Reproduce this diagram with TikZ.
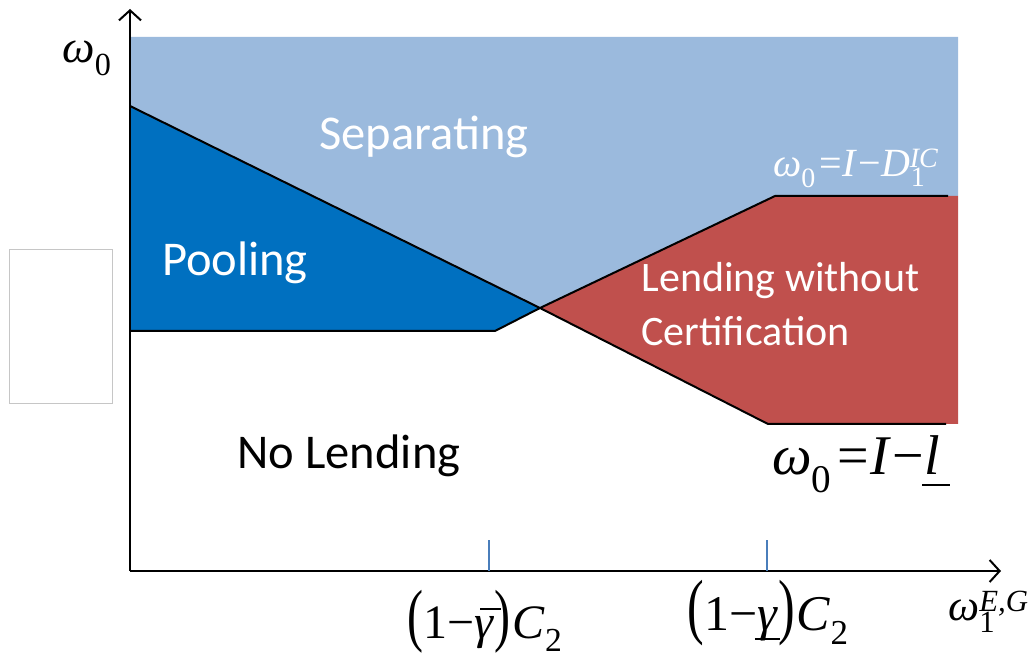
\documentclass[tikz,border=0pt]{standalone}
\usepackage{fontspec}
\setmainfont{Liberation Serif}
\newfontfamily\calib{Carlito}
\usepackage{graphicx}
\usetikzlibrary{arrows.meta}
\definecolor{lblue}{HTML}{9BBADD}
\definecolor{dblue}{HTML}{0070C0}
\definecolor{lred}{HTML}{C0504D}
\definecolor{tickc}{HTML}{4A7EBB}
\newcommand\omg{\textit{ω}}
\newcommand\bigp[1]{\scalebox{1}[1.45]{#1}}
\newcommand\obar[1]{\leavevmode\rlap{\kern0.12em\raisebox{0.58em}{\rule{0.42em}{2.2pt}}}#1}
\newcommand\ubar[1]{\leavevmode\rlap{\kern-0.05em\raisebox{-0.2em}{\rule{0.5em}{2.2pt}}}#1}
\tikzset{
  region/.style={text=white,font=\calib\fontsize{48.5}{54}\selectfont},
  smallregion/.style={text=white,font=\calib\fontsize{42}{50}\selectfont},
  boundary/.style={black,line width=2pt},
  axis/.style={black,line width=2.2pt,-{Straight Barb[length=10pt,width=22pt,line width=2pt]}},
  tickm/.style={tickc,line width=2pt},
  mathlbl/.style={inner sep=0pt},
}
\begin{document}
\begin{tikzpicture}[x=1pt,y=-1pt]
\useasboundingbox (0,0) rectangle (1029,660);
% regions
\fill[lblue] (130,37) -- (958,37) -- (958,196) -- (775,196) -- (540,308) -- (130,106) -- cycle;
\fill[dblue] (130,106) -- (540,308) -- (495,331) -- (130,331) -- cycle;
\fill[lred] (540,308) -- (775,196) -- (958,196) -- (958,424) -- (768,424) -- cycle;
% boundaries
\coordinate (p1) at (130,106);
\coordinate (x0) at (540,308);
\coordinate (p2) at (768,424);
\coordinate (p3) at (946,424);
\coordinate (q0) at (130,331);
\coordinate (q1) at (495,331);
\coordinate (q2) at (775,196);
\coordinate (q3) at (948,196);
\draw[boundary] (p1) -- (x0) -- (p2) -- (p3);
\draw[boundary] (q0) -- (q1) -- (x0) -- (q2) -- (q3);
% gray box
\draw[gray!45,line width=0.8pt] (9,249) rectangle (112,403);
% axes
\coordinate (o) at (130,571);
\coordinate (ytop) at (130,9);
\coordinate (xend) at (1001,571);
\draw[axis] (o) -- (ytop);
\draw[axis] (o) -- (xend);
% ticks
\coordinate (t1a) at (489,540); \coordinate (t1b) at (489,571);
\coordinate (t2a) at (767,540); \coordinate (t2b) at (767,571);
\draw[tickm] (t1a) -- (t1b);
\draw[tickm] (t2a) -- (t2b);
% region labels
\node[region] (sep) at (424,137) {Separating};
\node[region] (pool) at (235,263) {Pooling};
\node[smallregion,anchor=west] (lend1) at (638,281) {Lending without};
\node[smallregion,anchor=west] (lend2) at (638,331) {Certification};
\node[region,text=black] (nol) at (349,456) {No Lending};
% math labels
\node[mathlbl,font=\fontsize{46}{50}\selectfont] (w0) at (87,58) {\omg\textsubscript{0}};
\node[mathlbl,text=white,font=\fontsize{40}{44}\selectfont,anchor=base west] (dic) at (773,177)
  {\omg\textsubscript{0}\kern4pt=\textit{I}\kern1pt−\kern1pt\textit{D}\rlap{\textsubscript{1}}\kern-1pt\textsuperscript{\textit{IC}}};
\node[mathlbl,font=\fontsize{56}{60}\selectfont,anchor=base west] (il) at (772,475)
  {\omg\textsubscript{0}\kern6pt=\kern1pt\textit{I}\kern1pt−\kern1pt\ubar{\textit{l}}};
\node[mathlbl,font=\fontsize{48}{52}\selectfont,anchor=base] (gb) at (485,638)
  {\bigp{(}1−\obar{\textit{γ}}\bigp{)}\kern2pt\textit{C}\textsubscript{2}};
\node[mathlbl,font=\fontsize{50}{54}\selectfont,anchor=base] (gu) at (768,630)
  {\bigp{(}1−\ubar{\textit{γ}}\bigp{)}\kern2pt\textit{C}\textsubscript{2}};
\node[mathlbl,font=\fontsize{44}{48}\selectfont,anchor=west] (w1) at (948,612)
  {\omg\rlap{\textsubscript{1}}\textsuperscript{\textit{E,G}}};
\end{tikzpicture}
\end{document}
